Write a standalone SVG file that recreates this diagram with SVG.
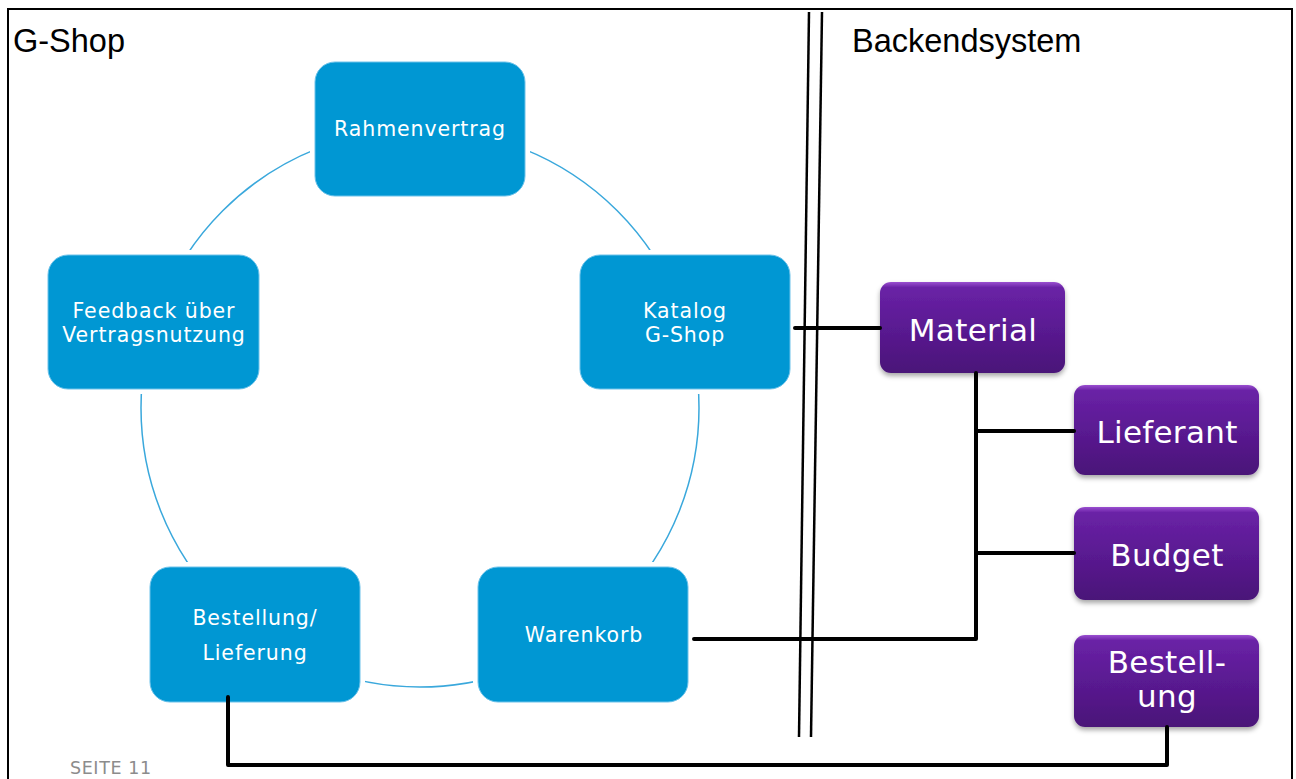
<svg xmlns="http://www.w3.org/2000/svg" width="1296" height="779" viewBox="0 0 1296 779">
  <defs>
    <linearGradient id="purple" x1="0" y1="0" x2="0" y2="1">
      <stop offset="0" stop-color="#9a4fd0"/>
      <stop offset="0.06" stop-color="#6a22a6"/>
      <stop offset="0.5" stop-color="#5a1a92"/>
      <stop offset="1" stop-color="#4a1478"/>
    </linearGradient>
    <filter id="shadow" x="-10%" y="-10%" width="120%" height="130%">
      <feDropShadow dx="0" dy="3" stdDeviation="2.5" flood-color="#000" flood-opacity="0.35"/>
    </filter>
    <style>
      .title { font-family: "Liberation Sans", Arial, sans-serif; font-size: 32.5px; fill: #000; }
      .blue { fill: #0097d3; stroke: #ffffff; stroke-width: 10; paint-order: stroke fill; }
      .blue-edge { fill: none; stroke: #6cc2ea; stroke-width: 1; }
      .blue-text { font-family: "DejaVu Sans", Verdana, sans-serif; font-size: 20.5px; letter-spacing: 0.9px; fill: #fff; text-anchor: middle; }
      .purple { fill: url(#purple); filter: url(#shadow); }
      .purple-text { font-family: "DejaVu Sans", Verdana, sans-serif; font-size: 31px; letter-spacing: 0.3px; fill: #fff; text-anchor: middle; }
      .ring { fill: none; stroke: #3aa8dc; stroke-width: 1.5; }
      .link { fill: none; stroke: #000; stroke-width: 4; stroke-linejoin: round; stroke-linecap: round; }
      .divider { stroke: #000; stroke-width: 2.5; }
    </style>
  </defs>

  <rect x="0" y="0" width="1296" height="779" fill="#fff"/>

  <!-- page frame -->
  <rect x="8" y="9" width="1284" height="800" fill="none" stroke="#000" stroke-width="2"/>

  <!-- section titles -->
  <text class="title" x="13" y="52">G-Shop</text>
  <text class="title" x="852" y="52">Backendsystem</text>

  <!-- page number -->
  <text x="70" y="774" font-family="DejaVu Sans, Verdana, sans-serif" font-size="17.5px" letter-spacing="0.6" fill="#8c8c8c">SEITE 11</text>

  <!-- cycle ring -->
  <circle class="ring" cx="420" cy="408" r="279"/>

  <!-- separator between shop and backend -->
  <g id="separator">
    <line class="divider" x1="809" y1="12" x2="799" y2="737"/>
    <line class="divider" x1="822" y1="12" x2="811" y2="737"/>
  </g>

  <!-- cycle nodes -->
  <g id="rahmenvertrag">
    <rect class="blue" x="315" y="62" width="210" height="134" rx="20"/>
    <rect class="blue-edge" x="315" y="62" width="210" height="134" rx="20"/>
    <text class="blue-text" x="420" y="136">Rahmenvertrag</text>
  </g>
  <g id="katalog">
    <rect class="blue" x="580" y="255" width="210" height="134" rx="20"/>
    <rect class="blue-edge" x="580" y="255" width="210" height="134" rx="20"/>
    <text class="blue-text" x="685" y="318">Katalog</text>
    <text class="blue-text" x="685" y="342">G-Shop</text>
  </g>
  <g id="warenkorb">
    <rect class="blue" x="478" y="567" width="210" height="135" rx="20"/>
    <rect class="blue-edge" x="478" y="567" width="210" height="135" rx="20"/>
    <text class="blue-text" x="584" y="642">Warenkorb</text>
  </g>
  <g id="bestellung-lieferung">
    <rect class="blue" x="150" y="567" width="210" height="135" rx="20"/>
    <rect class="blue-edge" x="150" y="567" width="210" height="135" rx="20"/>
    <text class="blue-text" x="255" y="625">Bestellung/</text>
    <text class="blue-text" x="255" y="660">Lieferung</text>
  </g>
  <g id="feedback">
    <rect class="blue" x="48" y="255" width="211" height="134" rx="20"/>
    <rect class="blue-edge" x="48" y="255" width="211" height="134" rx="20"/>
    <text class="blue-text" x="154" y="318">Feedback über</text>
    <text class="blue-text" x="154" y="342">Vertragsnutzung</text>
  </g>

  <!-- backend objects -->
  <g id="material">
    <rect class="purple" x="880" y="282" width="185" height="91" rx="11"/>
    <text class="purple-text" x="973" y="341">Material</text>
  </g>
  <g id="lieferant">
    <rect class="purple" x="1074" y="385" width="185" height="90" rx="11"/>
    <text class="purple-text" x="1167" y="443">Lieferant</text>
  </g>
  <g id="budget">
    <rect class="purple" x="1074" y="507" width="185" height="93" rx="11"/>
    <text class="purple-text" x="1167" y="566">Budget</text>
  </g>
  <g id="bestellung">
    <rect class="purple" x="1074" y="635" width="185" height="92" rx="11"/>
    <text class="purple-text" x="1167" y="673">Bestell-</text>
    <text class="purple-text" x="1167" y="707">ung</text>
  </g>

  <!-- connectors -->
  <g id="connectors">
    <path class="link" stroke-width="5" d="M795,328 H880"/>
    <path class="link" d="M694,639 H976 V373"/>
    <path class="link" d="M976,431 H1074"/>
    <path class="link" stroke-width="3.5" d="M976,553 H1074"/>
    <path class="link" d="M228,697 V765 H1167 V727"/>
  </g>
</svg>
